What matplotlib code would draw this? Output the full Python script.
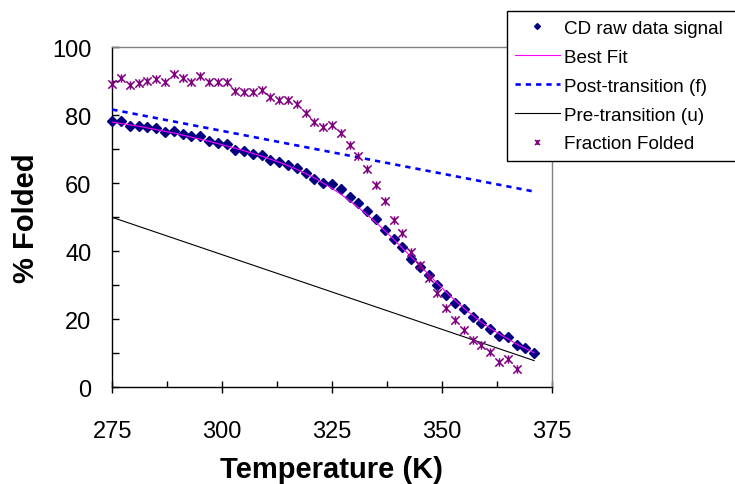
import matplotlib
matplotlib.use("Agg")
import matplotlib.pyplot as plt
from matplotlib.path import Path
from matplotlib.ticker import MultipleLocator

plt.rcParams['font.family'] = ['Liberation Sans', 'DejaVu Sans']

# temperatures (K), every 2 K
temp_cd = list(range(275, 372, 2))
temp_ff = list(range(275, 368, 2))

# CD raw data signal (diamonds)
cd_raw = [78.4, 78.4, 77.0, 77.0, 76.5, 76.2, 75.2, 75.5, 74.5, 73.8,
          73.8, 72.6, 72.0, 71.7, 69.8, 69.5, 68.7, 68.2, 66.9, 66.4,
          65.4, 64.5, 63.0, 61.3, 60.1, 59.8, 58.4, 56.1, 54.3, 51.9,
          49.4, 46.4, 43.7, 41.2, 37.8, 35.4, 33.2, 30.2, 27.3, 24.9,
          23.0, 20.8, 19.1, 17.3, 15.1, 14.9, 12.6, 11.6, 10.1]

# best fit curve
best_fit = [78.0, 77.6, 77.2, 76.8, 76.3, 75.8, 75.3, 74.8, 74.2, 73.6,
            73.0, 72.4, 71.7, 71.0, 70.3, 69.6, 68.8, 68.0, 67.1, 66.2,
            65.2, 64.1, 62.9, 61.6, 60.1, 58.5, 56.8, 54.9, 52.9, 50.8,
            48.5, 46.1, 43.6, 41.0, 38.4, 35.8, 33.2, 30.6, 28.0, 25.6,
            23.3, 21.2, 19.2, 17.4, 15.8, 14.3, 12.8, 11.5, 10.2]

# baselines (straight lines, end points)
base_T = [275, 371]
post_f = [81.7, 57.6]
pre_u = [50.0, 7.9]

# fraction folded (asterisks)
frac_folded = [89.3, 91.0, 88.8, 89.6, 90.2, 90.7, 89.8, 92.2, 90.9, 89.9,
               91.5, 89.9, 89.9, 89.9, 87.1, 86.9, 86.9, 87.5, 85.4, 84.6,
               84.4, 83.2, 80.7, 77.9, 76.6, 77.2, 74.9, 71.3, 68.0, 64.1,
               59.4, 54.8, 49.1, 45.4, 39.9, 36.0, 32.1, 27.9, 23.4, 19.9,
               17.0, 14.1, 12.6, 10.4, 7.6, 8.4, 5.4]

# excel-like asterisk marker: X with a vertical bar
star = Path([(-1, -1), (1, 1), (-1, 1), (1, -1), (0, -1), (0, 1)],
            [Path.MOVETO, Path.LINETO] * 3)

fig = plt.figure(figsize=(7.35, 4.85), dpi=100)
ax = fig.add_axes([0.1528, 0.199, 0.5978, 0.7014])

ax.plot(temp_cd, cd_raw, linestyle='none', marker='D', markersize=5,
        color='#000080', mec='#000080', mew=1, clip_on=False,
        label='CD raw data signal', zorder=3)
ax.plot(temp_cd, best_fit, color='#FF00FF', lw=0.8, label='Best Fit', zorder=4)
ax.plot(base_T, post_f, color='#0000FF', lw=1.9, dashes=(2, 1.9),
        label='Post-transition (f)', zorder=4)
ax.plot(base_T, pre_u, color='black', lw=0.8, label='Pre-transition (u)', zorder=4)
ax.plot(temp_ff, frac_folded, linestyle='none', marker=star, markersize=6,
        mfc='none', mec='#800080', mew=1.1, clip_on=False,
        label='Fraction Folded', zorder=5)

ax.set_xlim(275, 375)
ax.set_ylim(0, 100)
ax.xaxis.set_major_locator(MultipleLocator(25))
ax.xaxis.set_minor_locator(MultipleLocator(12.5))
ax.yaxis.set_major_locator(MultipleLocator(20))
ax.yaxis.set_minor_locator(MultipleLocator(10))

ax.tick_params(axis='x', which='major', direction='inout', length=9, width=1,
               labelsize=17, pad=19)
ax.tick_params(axis='x', which='minor', direction='in', length=4.5, width=1)
ax.tick_params(axis='y', which='both', direction='in', length=5, width=1,
               labelsize=17, pad=15)

for s in ['top', 'right']:
    ax.spines[s].set_color('#808080')
    ax.spines[s].set_linewidth(1)
for s in ['left', 'bottom']:
    ax.spines[s].set_color('black')
    ax.spines[s].set_linewidth(1)

ax.set_xlabel('Temperature (K)', fontsize=21, fontweight='bold')
ax.set_ylabel('% Folded', fontsize=21, fontweight='bold')
ax.xaxis.set_label_coords(0.5, -0.24)
ax.xaxis.label.set_va('center')
ax.yaxis.set_label_coords(-0.197, 0.5)
ax.yaxis.label.set_va('center')

leg = fig.legend(loc='upper left', bbox_to_anchor=(506.7 / 735, 1 - 12 / 485, 270 / 735, 0),
                 mode='expand', fontsize=13.6, frameon=True, fancybox=False,
                 edgecolor='black', framealpha=1, borderpad=0.45,
                 labelspacing=0.62, handlelength=2.35, handletextpad=0.25,
                 markerscale=0.6, numpoints=1, borderaxespad=0)
leg.get_frame().set_linewidth(1)

fig.savefig('out.png', dpi=100)
